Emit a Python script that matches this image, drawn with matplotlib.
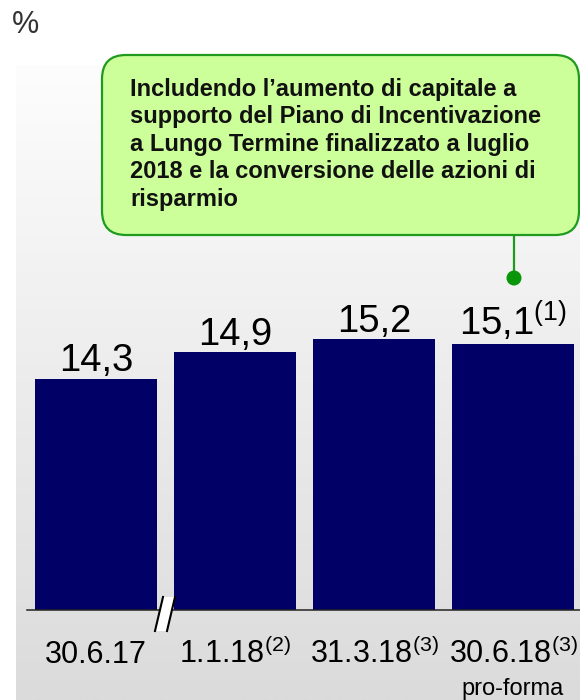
import numpy as np
import matplotlib
matplotlib.use("Agg")
import matplotlib.pyplot as plt
from matplotlib.patches import FancyBboxPatch, Circle, Polygon
from matplotlib.lines import Line2D
from matplotlib.transforms import IdentityTransform

# ---------------- data ----------------
categories = ["30.6.17", "1.1.18", "31.3.18", "30.6.18"]
category_notes = ["", "(2)", "(3)", "(3)"]
category_sublabels = ["", "", "", "pro-forma"]
values = [14.3, 14.9, 15.2, 15.1]
value_notes = ["", "", "", "(1)"]
unit_label = "%"
callout_text = ("Includendo l\u2019aumento di capitale a\n"
                "supporto del Piano di Incentivazione\n"
                "a Lungo Termine finalizzato a luglio\n"
                "2018 e la conversione delle azioni di\n"
                "risparmio")

# ---------------- style ----------------
plt.rcParams["font.family"] = ["Liberation Sans", "DejaVu Sans"]
plt.rcParams["mathtext.fontset"] = "custom"
plt.rcParams["mathtext.rm"] = "Liberation Sans"
plt.rcParams["mathtext.it"] = "Liberation Sans"
plt.rcParams["mathtext.bf"] = "Liberation Sans:bold"

W, H = 580, 700
DPI = 100
fig = plt.figure(figsize=(W / DPI, H / DPI), dpi=DPI)
fig.patch.set_facecolor("white")
ID = IdentityTransform()

def P(x, y_top):
    return (x, H - y_top)

# gradient background panel
bg = fig.add_axes([16 / W, 0, (W - 16) / W, (H - 65) / H], zorder=-10)
grad = np.linspace(0, 1, 256).reshape(-1, 1)
top_c = np.array([0xfd, 0xfd, 0xfd]) / 255
bot_c = np.array([0xdb, 0xdb, 0xdb]) / 255
img = top_c[None, None, :] * (1 - grad[:, :, None]) + bot_c[None, None, :] * grad[:, :, None]
bg.imshow(img, aspect="auto", extent=[0, 1, 0, 1], origin="upper")
bg.set_axis_off()

# main axes
base_px, top_px = 610, 60
ax = fig.add_axes([27 / W, (H - base_px) / H, (W - 27) / W, (base_px - top_px) / H])
ax.patch.set_alpha(0)
x = np.arange(len(categories))
ax.bar(x, values, width=0.877, color="#000066", bottom=0, zorder=2)
ax.set_xlim(-0.496, 3.482)
ymin = 9.1
ax.set_ylim(ymin, ymin + (base_px - top_px) / 44.4)
for s in ["top", "right", "left"]:
    ax.spines[s].set_visible(False)
ax.spines["bottom"].set_color("#222222")
ax.spines["bottom"].set_linewidth(1.1)
ax.spines["bottom"].set_zorder(3)
ax.set_yticks([])
ax.set_xticks([])

# value labels
for xi, v, note in zip(x, values, value_notes):
    s = f"{v:.1f}".replace(".", ",")
    if note:
        s += r"$^{\mathrm{" + note + "}}$"
    ax.annotate(s, xy=(xi, v), xytext=(0, 5.5), textcoords="offset points",
                ha="center", va="baseline", fontsize=27.5, color="black")

# category labels
for xi, c, note, sub in zip(x, categories, category_notes, category_sublabels):
    s = c
    if note:
        s += r"$^{\mathrm{" + note + "}}$"
    ax.annotate(s, xy=(xi, 0), xycoords=("data", "axes fraction"),
                xytext=(0, -53 * 72 / DPI), textcoords="offset points",
                ha="center", va="baseline", fontsize=22, color="black",
                annotation_clip=False)
    if sub:
        ax.annotate(sub, xy=(xi, 0), xycoords=("data", "axes fraction"),
                    xytext=(0, -85 * 72 / DPI), textcoords="offset points",
                    ha="center", va="baseline", fontsize=17, color="black",
                    annotation_clip=False)

# axis break mark
poly = Polygon([P(155, 631), P(163, 597), P(175, 597), P(167, 631)],
               closed=True, facecolor="white", edgecolor="none",
               transform=ID, zorder=5)
fig.add_artist(poly)
for (x0, y0, x1, y1) in [(155, 631, 163, 597), (167, 631, 175, 597)]:
    fig.add_artist(Line2D([x0, x1], [H - y0, H - y1], color="black",
                          lw=1.5, transform=ID, zorder=6))

# percent label
fig.text(12 / W, 1 - 33 / H, unit_label, fontsize=22, color="#333333",
         ha="left", va="baseline")

# callout box
box = FancyBboxPatch(P(102, 235), 477, 180,
                     boxstyle="round,pad=0,rounding_size=24",
                     facecolor="#ccff99", edgecolor="#1f9a1f", lw=1.6,
                     transform=ID, zorder=7)
fig.add_artist(box)
fig.add_artist(Line2D([514, 514], [H - 235, H - 278], color="#1f9a1f",
                      lw=1.6, transform=ID, zorder=6))
fig.add_artist(Circle(P(514, 278), 7.5, facecolor="#0a960a",
                      edgecolor="none", transform=ID, zorder=8))
fig.text(130, H - 78, callout_text, transform=ID, fontsize=17,
         fontweight="bold", color="#111111", ha="left", va="top",
         linespacing=1.25, zorder=9)

fig.savefig("out.png", dpi=DPI)
